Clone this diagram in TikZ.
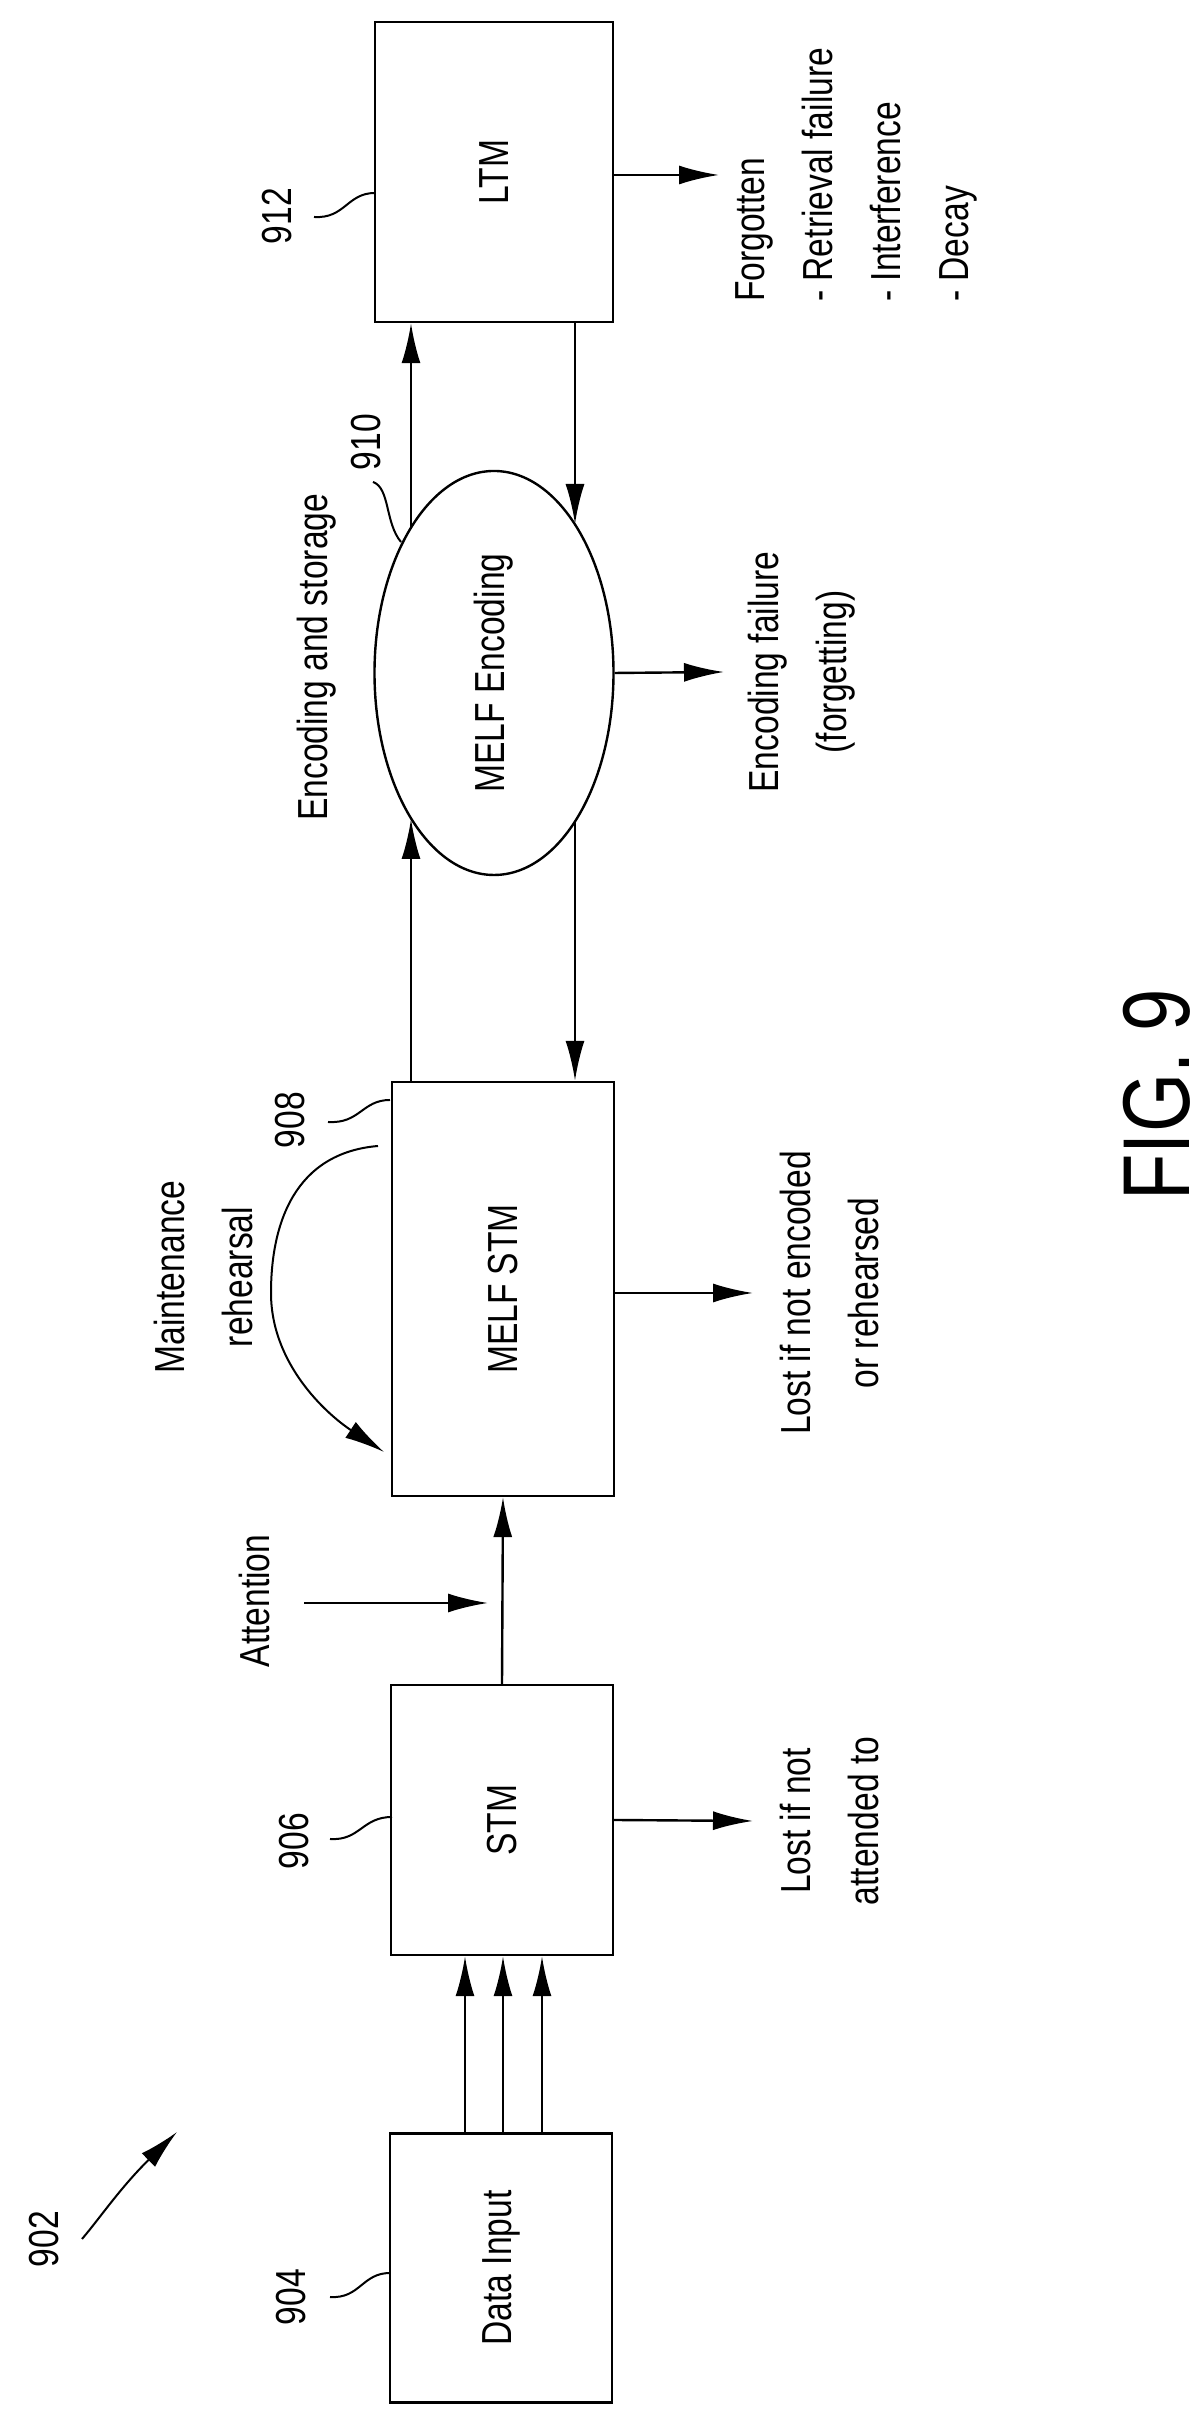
\documentclass[tikz,border=0pt]{standalone}
\usepackage{fontspec}
\setmainfont{Liberation Sans}[FakeStretch=0.8]
\usetikzlibrary{arrows.meta,shapes.geometric}

\tikzset{
  box/.style={draw,line width=2.4pt,minimum height=222pt,inner sep=0pt},
  txt/.style={font=\fontsize{42}{68}\selectfont,align=center,inner sep=0pt},
  arr/.style={line width=2.4pt,-{Latex[length=40pt,width=19pt]}},
  lead/.style={line width=2pt}
}

\begin{document}
\begin{tikzpicture}[x=1pt,y=1pt,rotate=90,transform shape]
	\useasboundingbox (0,-1204) rectangle (2423,0);
	
	% blocks
	\node [box,minimum width=269pt] (input) at (155,-501) {};
	\node [txt] (inputt) at (input) {Data Input};
	\node [box,minimum width=270pt] (stm) at (603,-502) {};
	\node [txt] (stmt) at (stm) {STM};
	\node [box,minimum width=414pt] (melf) at (1134,-503) {};
	\node [txt] (melft) at (melf) {MELF STM};
	\node [draw,ellipse,line width=2.4pt,minimum width=404pt,minimum height=239pt,inner sep=0pt] (enc) at (1750,-494) {};
	\node [txt] (enct) at (enc) {MELF Encoding};
	\node [box,minimum width=300pt,minimum height=238pt] (ltm) at (2251,-494) {};
	\node [txt] (ltmt) at (ltm) {LTM};
	
	% points on the ellipse
	\coordinate (encA) at (1604,-411);
	\coordinate (encB) at (1896,-411);
	\coordinate (encC) at (1601,-575);
	\coordinate (encD) at (1899,-575);
	
	% data input to STM
	\foreach \yy in {-465,-503,-542} {
		\coordinate (in\yy) at (0,\yy);
		\draw [arr] (input.east |- in\yy) -- (stm.west |- in\yy);
	}
	\draw [arr] (stm.east) -- (melf.west);
	\draw [arr] (melf.east |- encA) -- (encA);
	\draw [arr] (encB) -- (ltm.west |- encB);
	\draw [arr] (ltm.west |- encD) -- (encD);
	\draw [arr] (encC) -- (melf.east |- encC);
	
	% attention
	\coordinate (att) at (820,-304);
	\coordinate (attb) at (820,-488);
	\draw [arr] (att) -- (attb);
	\node [txt] (attt) at (822,-254) {Attention};
	
	% maintenance rehearsal
	\coordinate (mrA) at (1277,-378);
	\coordinate (mrB) at (971,-384);
	\draw [arr,line width=2pt] (mrA) .. controls (1270,-295) and (1200,-271) .. (1130,-271) .. controls (1060,-271) and (1010,-325) .. (mrB);
	\node [txt] (mrt) at (1146,-203) {Maintenance\\rehearsal};
	
	% losses
	\coordinate (l1) at (602,-753);
	\draw [arr] (stm.south) -- (l1);
	\node [txt,anchor=north] (lost1) at (602,-780) {Lost if not\\attended to};
	\coordinate (l2a) at (1130,-614);
	\coordinate (l2b) at (1130,-753);
	\draw [arr] (l2a) -- (l2b);
	\node [txt,anchor=north] (lost2) at (1130,-780) {Lost if not encoded\\or rehearsed};
	\coordinate (l3) at (1751,-724);
	\draw [arr] (enc.south) -- (l3);
	\node [txt,anchor=north] (fail) at (1751,-748) {Encoding failure\\(forgetting)};
	\coordinate (l4) at (2248,-719);
	\coordinate (l4a) at (2248,-613);
	\draw [arr] (l4a) -- (l4);
	\node [txt,anchor=north west,align=left] (forg) at (2121,-735) {Forgotten\\- Retrieval failure\\- Interference\\- Decay};
	\node [txt,anchor=west] (store) at (1602,-317) {Encoding and storage};
	
	% reference numerals
	\node [txt] (n902) at (184,-44) {902};
	\coordinate (n902a) at (184,-82);
	\coordinate (n902b) at (291,-177);
	\draw [arr,line width=2pt] (n902a) .. controls (205,-100) and (235,-120) .. (n902b);
	\node [txt] (n904) at (126,-291) {904};
	\draw [lead] (126,-330) .. controls (124,-360) and (150,-362) .. (150,-390);
	\node [txt] (n906) at (582,-294) {906};
	\draw [lead] (584,-330) .. controls (582,-360) and (606,-362) .. (606,-392);
	\node [txt] (n908) at (1303,-290) {908};
	\draw [lead] (1301,-328) .. controls (1299,-360) and (1323,-362) .. (1323,-390);
	\node [txt] (n910) at (1981,-366) {910};
	\draw [lead] (1941,-373) .. controls (1935,-390) and (1900,-385) .. (1881,-401);
	\node [txt] (n912) at (2207,-277) {912};
	\draw [lead] (2206,-314) .. controls (2204,-345) and (2230,-347) .. (2230,-375);
	
	\node [font=\fontsize{95}{100}\selectfont,inner sep=0pt] (fig) at (1328,-1157) {FIG. 9};
\end{tikzpicture}
\end{document}
